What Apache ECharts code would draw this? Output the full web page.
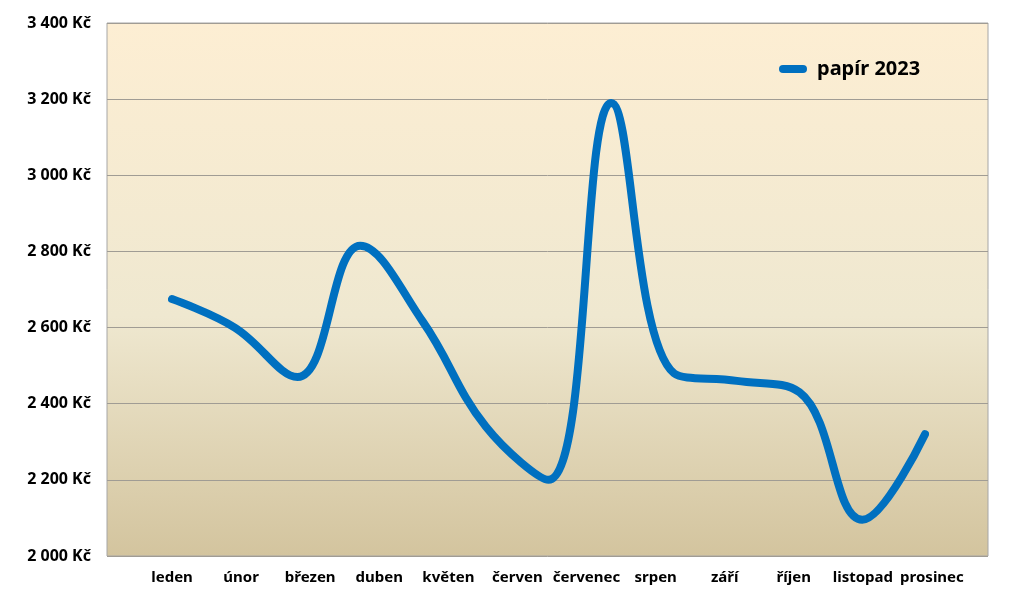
<!DOCTYPE html>
<html>
<head>
<meta charset="utf-8">
<script src="https://cdn.jsdelivr.net/npm/echarts@6/dist/echarts.min.js"></script>
<style>
  html, body { margin: 0; padding: 0; background: #ffffff; }
  #chart { width: 1024px; height: 597px; }
</style>
</head>
<body>
<div id="chart"></div>
<script>
// ---- data ----
const months = ['leden', 'únor', 'březen', 'duben', 'květen', 'červen', 'červenec', 'srpen', 'září', 'říjen', 'listopad', 'prosinec'];
const seriesName = 'papír 2023';
// the drawn line has 13 vertices
const values = [2675, 2600, 2470, 2815, 2615, 2340, 2200, 3190, 2480, 2460, 2430, 2095, 2320];
const yMin = 2000, yMax = 3400, yStep = 200;

const fontFamily = '"Noto Sans", "Open Sans", sans-serif';
const fmt = v => String(v).replace(/\B(?=(\d{3})+(?!\d))/g, ' ') + ' Kč';
const pointIdx = values.map((_, i) => String(i));

const chart = echarts.init(document.getElementById('chart'), null, { renderer: 'canvas' });
const gTop = 23, gBottom = 41;
chart.setOption({
  animation: false,
  backgroundColor: '#ffffff',
  legend: {
    show: true,
    left: 774,
    top: 54,
    itemWidth: 28,
    itemHeight: 8,
    icon: 'path://M4,0 H24 A4,4 0 0 1 24,8 H4 A4,4 0 0 1 4,0 Z',
    data: [seriesName],
    textStyle: { fontFamily, fontWeight: 'bold', fontSize: 20, color: '#000', padding: [0, 0, 0, 5] }
  },
  grid: [
    { left: 107, right: 36, top: gTop, bottom: gBottom, show: true, borderColor: '#a6a6a6', borderWidth: 1,
      backgroundColor: new echarts.graphic.LinearGradient(0, 0, 0, 1, [
        { offset: 0, color: '#fdeed3' }, { offset: 0.55, color: '#efe8d0' }, { offset: 1, color: '#d3c49e' }]) },
    { left: 172, right: 99, top: gTop, bottom: gBottom },
    { left: 137.5, right: 57.5, top: gTop, bottom: gBottom }
  ],
  xAxis: [
    { type: 'category', gridIndex: 0, data: months, show: false },
    { type: 'category', gridIndex: 1, data: pointIdx, boundaryGap: false, show: false },
    { type: 'category', gridIndex: 2, data: months, boundaryGap: true,
      axisLine: { show: false }, axisTick: { show: false },
      axisLabel: { margin: 14, fontFamily, fontWeight: 'bold', fontSize: 15, color: '#000', interval: 0 } }
  ],
  yAxis: [
    { type: 'value', gridIndex: 0, min: yMin, max: yMax, interval: yStep,
      axisLine: { show: false }, axisTick: { show: false },
      splitLine: { lineStyle: { color: '#a09c94', width: 1 } },
      axisLabel: { formatter: fmt, margin: 16, fontFamily, fontWeight: 'bold', fontSize: 16, color: '#000' } },
    { type: 'value', gridIndex: 1, min: yMin, max: yMax, interval: yStep, show: false, splitLine: { show: false } },
    { type: 'value', gridIndex: 2, min: yMin, max: yMax, interval: yStep, show: false, splitLine: { show: false } }
  ],
  series: [{
    name: seriesName,
    type: 'line',
    xAxisIndex: 1,
    yAxisIndex: 1,
    data: values,
    smooth: 0.4,
    symbol: 'none',
    color: '#0070c0',
    lineStyle: { color: '#0070c0', width: 8, cap: 'round', join: 'round' }
  }]
});
</script>
</body>
</html>
